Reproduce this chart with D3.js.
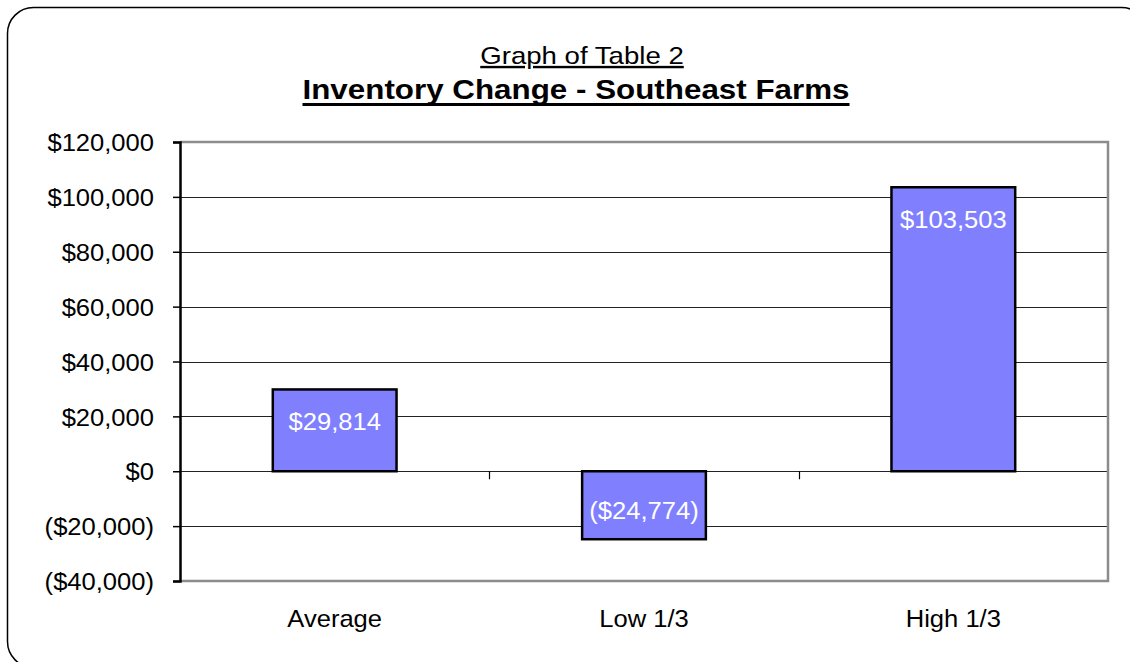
<!DOCTYPE html>
<html>
<head>
<meta charset="utf-8">
<script src="https://cdn.jsdelivr.net/npm/d3@7/dist/d3.min.js"></script>
<style>
  html, body { margin: 0; padding: 0; background: #fff; }
  svg { display: block; }
  text { font-family: "Liberation Sans", Arial, sans-serif; }
</style>
</head>
<body>
<svg id="chart" width="1130" height="662"></svg>
<script>
// Inventory change by farm group
const categories = ["Average", "Low 1/3", "High 1/3"];
const values = [29814, -24774, 103503];
const valueLabels = ["$29,814", "($24,774)", "$103,503"];
const yTickValues = [-40000, -20000, 0, 20000, 40000, 60000, 80000, 100000, 120000];
const yTickLabels = ["($40,000)", "($20,000)", "$0", "$20,000", "$40,000", "$60,000", "$80,000", "$100,000", "$120,000"];
const subtitle = "Graph of Table 2";
const title = "Inventory Change - Southeast Farms";

const svg = d3.select("#chart");
const plot = { left: 180, right: 1108, top: 142, bottom: 581 };

// Frame around the whole chart
svg.append("rect")
  .attr("x", 7.5).attr("y", 7.5)
  .attr("width", 1140).attr("height", 660)
  .attr("rx", 26).attr("ry", 26)
  .attr("fill", "#fff")
  .attr("stroke", "#000").attr("stroke-width", 1.5);

const x = d3.scaleBand().domain(categories)
  .range([plot.left, plot.right]).paddingInner(0.6).paddingOuter(0.3);
const xCat = d3.scaleBand().domain(categories).range([plot.left, plot.right]);
const y = d3.scaleLinear().domain([-40000, 120000]).range([plot.bottom, plot.top]);

// Horizontal gridlines
svg.append("g").selectAll("line")
  .data(yTickValues.filter(v => v > -40000 && v < 120000))
  .join("line")
  .attr("x1", plot.left).attr("x2", plot.right)
  .attr("y1", d => Math.round(y(d)) + 0.5).attr("y2", d => Math.round(y(d)) + 0.5)
  .attr("stroke", "#222").attr("stroke-width", 1.2);

// Plot area border (top, right, bottom)
svg.append("path")
  .attr("d", `M${plot.left},${plot.top}H${plot.right}V${plot.bottom}H${plot.left}`)
  .attr("fill", "none").attr("stroke", "#8c8c8c").attr("stroke-width", 2.5);

// Bars
svg.append("g").selectAll("rect")
  .data(values)
  .join("rect")
  .attr("x", (d, i) => x(categories[i]))
  .attr("width", x.bandwidth())
  .attr("y", d => y(Math.max(0, d)))
  .attr("height", d => Math.abs(y(d) - y(0)))
  .attr("fill", "#8080ff")
  .attr("stroke", "#000").attr("stroke-width", 2.5);

// Value axis with tick marks on the left
const yAxis = d3.axisLeft(y).tickValues(yTickValues)
  .tickSize(7).tickPadding(19)
  .tickFormat((d, i) => yTickLabels[i]);
const yg = svg.append("g").attr("transform", `translate(${plot.left},0)`).call(yAxis);
yg.select(".domain").attr("stroke", "#000").attr("stroke-width", 2.5);
yg.selectAll(".tick line").attr("stroke", "#000").attr("stroke-width", 1.5);
yg.selectAll(".tick text")
  .attr("font-size", 24).attr("fill", "#000")
  .attr("font-family", "'Liberation Sans', Arial, sans-serif")
  .attr("dy", "0.36em")
  .each(function () {
    const t = d3.select(this);
    const xx = +t.attr("x");
    t.attr("x", null).attr("transform", `translate(${xx},0) scale(1.065,1)`);
  });

// Category axis along the zero line
const catBounds = [categories[1], categories[2]].map(c => xCat(c));
svg.append("g").selectAll("line")
  .data(catBounds)
  .join("line")
  .attr("x1", d => Math.round(d) + 0.5).attr("x2", d => Math.round(d) + 0.5)
  .attr("y1", y(0)).attr("y2", y(0) + 8)
  .attr("stroke", "#000").attr("stroke-width", 1.2);

svg.append("g").selectAll("text")
  .data(categories)
  .join("text")
  .attr("transform", d => `translate(${xCat(d) + xCat.bandwidth() / 2},627) scale(1.065,1)`)
  .attr("text-anchor", "middle")
  .attr("font-size", 24).attr("fill", "#000")
  .text(d => d);

// Value labels inside bar ends
svg.append("g").selectAll("text")
  .data(values)
  .join("text")
  .attr("transform", (d, i) => {
    const cx = x(categories[i]) + x.bandwidth() / 2;
    const by = d >= 0 ? y(d) + 41 : y(d) - 20;
    return `translate(${cx},${by}) scale(1.065,1)`;
  })
  .attr("text-anchor", "middle")
  .attr("font-size", 24).attr("fill", "#fff")
  .text((d, i) => valueLabels[i]);

// Titles
svg.append("text")
  .attr("transform", "translate(582,64) scale(1.15,1)")
  .attr("text-anchor", "middle")
  .attr("font-size", 24).attr("text-decoration", "underline")
  .attr("fill", "#000")
  .text(subtitle);

const titleText = svg.append("text")
  .attr("transform", "translate(576,99) scale(1.12,1)")
  .attr("text-anchor", "middle")
  .attr("font-size", 28).attr("font-weight", "bold")
  .attr("fill", "#000")
  .text(title);

// Heavy underline beneath the main title
const tw = titleText.node().getComputedTextLength() * 1.12;
svg.append("line")
  .attr("x1", 576 - tw / 2).attr("x2", 576 + tw / 2)
  .attr("y1", 104.5).attr("y2", 104.5)
  .attr("stroke", "#000").attr("stroke-width", 3);
</script>
</body>
</html>
